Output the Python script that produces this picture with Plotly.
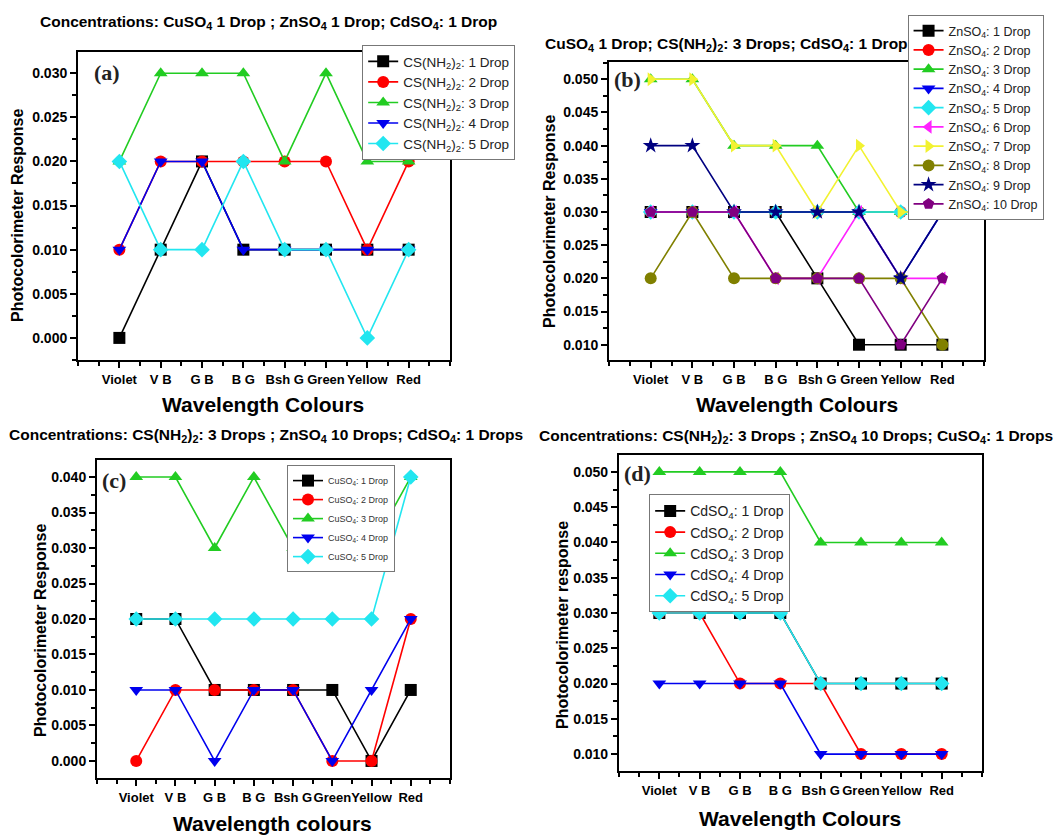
import plotly.graph_objects as go

categories = ["Violet", "V B", "G B", "B G", "Bsh G", "Green", "Yellow", "Red"]

# Panel (a): CS(NH2)2 drops
a_1 = [0.000, 0.010, 0.020, 0.010, 0.010, 0.010, 0.010, 0.010]
a_2 = [0.010, 0.020, 0.020, 0.020, 0.020, 0.020, 0.010, 0.020]
a_3 = [0.020, 0.030, 0.030, 0.030, 0.020, 0.030, 0.020, 0.020]
a_4 = [0.010, 0.020, 0.020, 0.010, 0.010, 0.010, 0.010, 0.010]
a_5 = [0.020, 0.010, 0.010, 0.020, 0.010, 0.010, 0.000, 0.010]

# Panel (b): ZnSO4 drops
b_1 = [0.030, 0.030, 0.030, 0.030, 0.020, 0.010, 0.010, 0.010]
b_2 = [0.030, 0.030, 0.030, 0.030, 0.030, 0.030, 0.030, 0.030]
b_3 = [0.050, 0.050, 0.040, 0.040, 0.040, 0.030, 0.030, 0.030]
b_4 = [0.030, 0.030, 0.030, 0.030, 0.030, 0.030, 0.020, 0.030]
b_5 = [0.030, 0.030, 0.030, 0.030, 0.030, 0.030, 0.030, 0.030]
b_6 = [0.030, 0.030, 0.030, 0.020, 0.020, 0.030, 0.020, 0.020]
b_7 = [0.050, 0.050, 0.040, 0.040, 0.030, 0.040, 0.030, 0.030]
b_8 = [0.020, 0.030, 0.020, 0.020, 0.020, 0.020, 0.020, 0.010]
b_9 = [0.040, 0.040, 0.030, 0.030, 0.030, 0.030, 0.020, 0.030]
b_10 = [0.030, 0.030, 0.030, 0.020, 0.020, 0.020, 0.010, 0.020]

# Panel (c): CuSO4 drops
c_1 = [0.020, 0.020, 0.010, 0.010, 0.010, 0.010, 0.000, 0.010]
c_2 = [0.000, 0.010, 0.010, 0.010, 0.010, 0.000, 0.000, 0.020]
c_3 = [0.040, 0.040, 0.030, 0.040, 0.030, 0.030, 0.030, 0.040]
c_4 = [0.010, 0.010, 0.000, 0.010, 0.010, 0.000, 0.010, 0.020]
c_5 = [0.020, 0.020, 0.020, 0.020, 0.020, 0.020, 0.020, 0.040]

# Panel (d): CdSO4 drops
d_1 = [0.030, 0.030, 0.030, 0.030, 0.020, 0.020, 0.020, 0.020]
d_2 = [0.030, 0.030, 0.020, 0.020, 0.020, 0.010, 0.010, 0.010]
d_3 = [0.050, 0.050, 0.050, 0.050, 0.040, 0.040, 0.040, 0.040]
d_4 = [0.020, 0.020, 0.020, 0.020, 0.010, 0.010, 0.010, 0.010]
d_5 = [0.030, 0.030, 0.030, 0.030, 0.020, 0.020, 0.020, 0.020]

colors = ["#000000", "#FF0000", "#22CC22", "#0000EE", "#22E6F0",
          "#FF22FF", "#F2F230", "#808000", "#000080", "#800080"]
symbols = ["square", "circle", "triangle-up", "triangle-down", "diamond",
           "triangle-left", "triangle-right", "circle", "star", "pentagon"]

FONT = "Liberation Sans, Arial, sans-serif"
xpos = list(range(len(categories)))
W, H = 1059, 835

fig = go.Figure()

panels = [
    dict(series=[a_1, a_2, a_3, a_4, a_5],
         name="CS(NH<sub>2</sub>)<sub>2</sub>: {} Drop", legend="legend", ax=""),
    dict(series=[b_1, b_2, b_3, b_4, b_5, b_6, b_7, b_8, b_9, b_10],
         name="ZnSO<sub>4</sub>: {} Drop", legend="legend2", ax="2"),
    dict(series=[c_1, c_2, c_3, c_4, c_5],
         name="CuSO<sub>4</sub>: {} Drop", legend="legend3", ax="3"),
    dict(series=[d_1, d_2, d_3, d_4, d_5],
         name="CdSO<sub>4</sub>: {} Drop", legend="legend4", ax="4"),
]

for p in panels:
    for i, vals in enumerate(p["series"]):
        fig.add_trace(go.Scatter(
            x=xpos, y=vals, mode="lines+markers",
            name=p["name"].format(i + 1),
            line=dict(color=colors[i], width=1.6),
            marker=dict(symbol=symbols[i], size=12, color=colors[i]),
            xaxis="x" + p["ax"], yaxis="y" + p["ax"],
            legend=p["legend"],
        ))

domains = {
    "": dict(x=[0.0737, 0.4249], y=[0.5689, 0.9377], yr=[-0.0025, 0.0324]),
    "2": dict(x=[0.5751, 0.9292], y=[0.5689, 0.9257], yr=[0.0077, 0.0526]),
    "3": dict(x=[0.0916, 0.4249], y=[0.0683, 0.4491], yr=[-0.0024, 0.0424]),
    "4": dict(x=[0.5845, 0.9273], y=[0.0766, 0.4551], yr=[0.0076, 0.0524]),
}

layout = {}
for k, d in domains.items():
    layout["xaxis" + k] = dict(
        domain=d["x"], anchor="y" + k, range=[-1, 8], automargin=False,
        tickmode="array", tickvals=xpos, ticktext=categories, tickangle=0,
        showline=True, mirror=True, linecolor="black", linewidth=2,
        ticks="outside", ticklen=6, tickwidth=2, tickcolor="black",
        minor=dict(tickmode="linear", tick0=-1, dtick=0.5, ticks="outside",
                   ticklen=4, tickwidth=1.5, tickcolor="black"),
        showgrid=False, zeroline=False,
        tickfont=dict(family=FONT, size=13, color="black", weight="bold"),
    )
    layout["yaxis" + k] = dict(
        domain=d["y"], anchor="x" + k, range=d["yr"], automargin=False,
        tickmode="linear", tick0=0, dtick=0.005, tickformat=".3f",
        showline=True, mirror=True, linecolor="black", linewidth=2,
        ticks="outside", ticklen=6, tickwidth=2, tickcolor="black",
        minor=dict(tickmode="linear", tick0=0.0025, dtick=0.005, ticks="outside",
                   ticklen=4, tickwidth=1.5, tickcolor="black"),
        showgrid=False, zeroline=False,
        tickfont=dict(family=FONT, size=14, color="black", weight="bold"),
    )

legend_style = dict(bgcolor="white", bordercolor="#777777", borderwidth=1,
                    xanchor="left", yanchor="top", tracegroupgap=0)
layout["legend"] = dict(x=0.342, y=0.946, font=dict(family=FONT, size=13.5, color="#222"), **legend_style)
layout["legend2"] = dict(x=0.857, y=0.982, font=dict(family=FONT, size=12.5, color="#222"), **legend_style)
layout["legend3"] = dict(x=0.271, y=0.443, font=dict(family=FONT, size=9, color="#333"), **legend_style)
layout["legend4"] = dict(x=0.613, y=0.408, font=dict(family=FONT, size=14, color="#222"), **legend_style)

annotations = []

def add_text(text, px, py, size, family=FONT, angle=0, xanchor="center", color="black"):
    annotations.append(dict(text="<b>" + text + "</b>", x=px / W, y=1 - py / H,
                            xref="paper", yref="paper", showarrow=False,
                            xanchor=xanchor, yanchor="middle", textangle=angle,
                            font=dict(family=family, size=size, color=color)))

titles = [
    ("Concentrations: CuSO<sub>4</sub> 1 Drop ; ZnSO<sub>4</sub> 1 Drop; CdSO<sub>4</sub>: 1 Drop", 268, 22),
    ("CuSO<sub>4</sub> 1 Drop; CS(NH<sub>2</sub>)<sub>2</sub>: 3 Drops; CdSO<sub>4</sub>: 1 Drop", 726, 45),
    ("Concentrations: CS(NH<sub>2</sub>)<sub>2</sub>: 3 Drops ; ZnSO<sub>4</sub> 10 Drops; CdSO<sub>4</sub>: 1 Drops", 266, 435),
    ("Concentrations: CS(NH<sub>2</sub>)<sub>2</sub>: 3 Drops ; ZnSO<sub>4</sub> 10 Drops; CuSO<sub>4</sub>: 1 Drops", 796, 437),
]
for text, px, py in titles:
    add_text(text, px, py, 15.5)

xtitles = [("Wavelength Colours", 263, 405), ("Wavelength Colours", 797, 405),
           ("Wavelength colours", 272, 823), ("Wavelength Colours", 800, 818)]
for text, px, py in xtitles:
    add_text(text, px, py, 21)

ytitles = [("Photocolorimeter Response", 18, 216), ("Photocolorimeter Response", 550, 222),
           ("Photocolorimeter Response", 40, 631), ("Photocolorimeter response", 562, 625)]
for text, px, py in ytitles:
    add_text(text, px, py, 16, angle=-90)

labels = [("(a)", 92, 73), ("(b)", 612, 79), ("(c)", 100, 480), ("(d)", 622, 473)]
for text, px, py in labels:
    add_text(text, px, py, 22, family="Liberation Serif, Times New Roman, serif",
             xanchor="left", color="#222")

fig.update_layout(
    width=W, height=H, margin=dict(l=0, r=0, t=0, b=0, autoexpand=False),
    paper_bgcolor="white", plot_bgcolor="white",
    annotations=annotations, **layout,
)

fig.write_html("out.html", config={"displayModeBar": False},
               post_script="document.body.style.margin='0px';document.body.style.overflow='hidden';")
